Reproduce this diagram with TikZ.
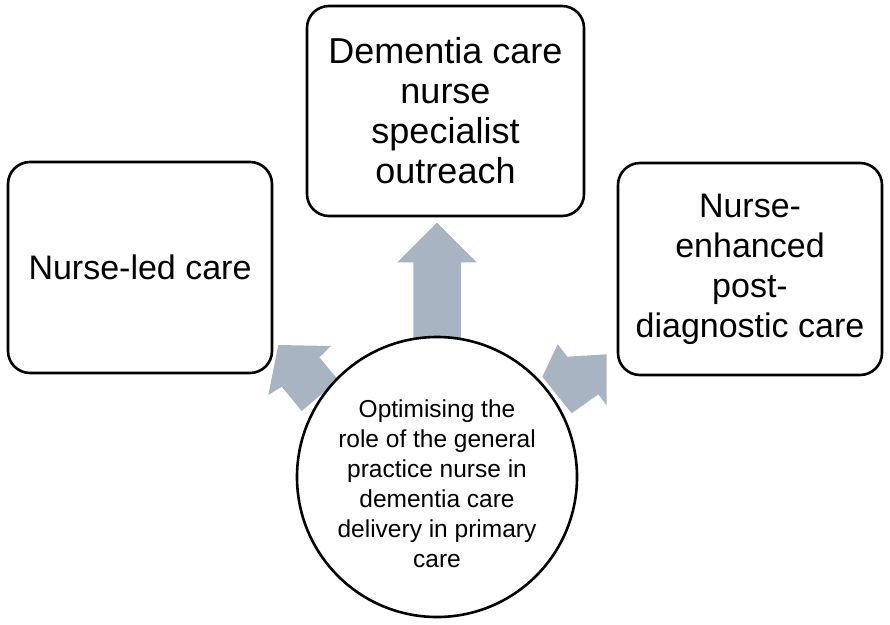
\documentclass[tikz,border=0pt]{standalone}
\usepackage{fontspec}
\setmainfont{Liberation Sans}
\usepackage{tikz}
\usetikzlibrary{positioning, calc}
\definecolor{arrowgrey}{RGB}{169,180,194}

\begin{document}
\begin{tikzpicture}[x=1pt, y=-1pt,
        carebox/.style={draw, line width=2.6pt, rounded corners=22pt, align=center,
          font=\fontsize{34}{40}\selectfont},
        hub/.style={circle, draw, line width=2.6pt, fill=white, minimum size=280pt},
        hubtext/.style={align=center, font=\fontsize{24.5}{30}\selectfont},
        blockarrow/.style={fill=arrowgrey}]
      \useasboundingbox (0,0) rectangle (890,624);
      % block arrows (behind the shapes)
      \fill[blockarrow] (437,222.7) -- (476.7,262.3) -- (461,262.3) -- (461,345)
            -- (413.3,345) -- (413.3,262.3) -- (397.3,262.3) -- cycle;
      \fill[blockarrow] (278.3,345) -- (331,346) -- (319.3,357.3) -- (338.3,380)
            -- (301.7,411) -- (281.7,386.7) -- (268.3,395) -- cycle;
      \fill[blockarrow] (557.7,344.3) -- (567.3,356.7) -- (606.7,354.3) -- (606.7,405.7)
            -- (598.3,394.3) -- (571.7,413.3) -- (542.3,376.7) -- cycle;
      % boxes
      \node[carebox, minimum width=277pt, minimum height=210pt,
            font=\fontsize{36}{40}\selectfont] (specialist) at (445.5,111)
            {Dementia care\\nurse\\specialist\\outreach};
      \node[carebox, minimum width=264pt, minimum height=211pt] (nurseled) at (140,267.5)
            {Nurse-led care};
      \node[carebox, minimum width=264pt, minimum height=212pt] (enhanced) at (750,269)
            {Nurse-\\enhanced\\post-\\diagnostic care};
      % centre
      \node[hub] (role) at (437,477) {};
      \node[hubtext] (roletext) at ([yshift=-7pt]role.center)
            {Optimising the\\role of the general\\practice nurse in\\dementia care\\delivery in primary\\care};
    \end{tikzpicture}
\end{document}
